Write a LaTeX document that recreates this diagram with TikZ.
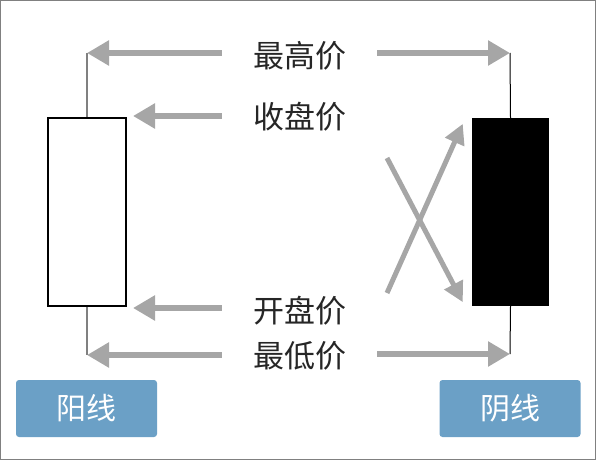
\documentclass[tikz,border=0pt]{standalone}
\usepackage{fontspec}
\newfontfamily\cjk{Noto Sans CJK SC}
\usetikzlibrary{arrows.meta,positioning}

\definecolor{arrowgray}{RGB}{166,166,166}
\definecolor{textgray}{RGB}{38,38,38}
\definecolor{tagblue}{RGB}{107,160,198}

\tikzset{
  pointer/.style={-{Triangle[length=22pt,width=24pt]}, line width=6pt, arrowgray},
  thinpointer/.style={-{Triangle[length=20pt,width=20pt]}, line width=5pt, arrowgray},
  pricelabel/.style={font=\cjk\fontsize{31}{31}\selectfont, text=textgray,
    minimum width=155pt, inner sep=0pt},
  tagbox/.style={fill=tagblue, rounded corners=3pt, minimum width=141pt,
    minimum height=57pt, text=white, font=\cjk\fontsize{30}{30}\selectfont, inner sep=0pt}
}

\begin{document}
\begin{tikzpicture}[x=1pt,y=-1pt]
    \useasboundingbox (0,0) rectangle (596,460);
    % Frame
    \draw[gray, line width=1pt] (0.5,0.5) rectangle (595.5,459.5);

    % Rising candle
    \node[draw, line width=1.6pt, fill=white, minimum width=78pt, minimum height=188pt,
      inner sep=0pt] (upBody) at (87,212) {};
    \coordinate (upHigh) at (87,53);
    \coordinate (upLow) at (87,355);
    \draw[gray, line width=1.2pt] (upHigh) -- (upBody.north);
    \draw[gray, line width=1.2pt] (upBody.south) -- (upLow);
    \coordinate (upClose) at (133,116);
    \coordinate (upOpen) at (133,308);

    % Falling candle
    \node[fill=black, minimum width=77pt, minimum height=188pt, inner sep=0pt]
      (downBody) at (510.5,212) {};
    \coordinate (downHigh) at (510,53);
    \coordinate (downLow) at (510,354);
    \draw[black, line width=1pt] (downHigh) -- (downBody.north);
    \draw[black, line width=1pt] (downBody.south) -- (downLow);

    % Price labels
    \node[pricelabel] (lblHigh) at (299.5,56) {最高价};
    \node[pricelabel] (lblClose) at (299.5,117) {收盘价};
    \node[pricelabel] (lblOpen) at (299.5,311) {开盘价};
    \node[pricelabel] (lblLow) at (299.5,356) {最低价};

    % Arrows to the rising candle
    \draw[pointer] (lblHigh.west |- upHigh) -- (upHigh);
    \draw[pointer] (lblClose.west |- upClose) -- (upClose);
    \draw[pointer] (lblOpen.west |- upOpen) -- (upOpen);
    \draw[pointer] (lblLow.west |- upLow) -- (upLow);

    % Arrows to the falling candle
    \draw[pointer] (lblHigh.east |- downHigh) -- (downHigh);
    \draw[pointer] (lblLow.east |- downLow) -- (downLow);

    % Crossed arrows: close on top, open at bottom
    \coordinate (crossTop) at (387,158);
    \coordinate (crossBottom) at (387,293);
    \draw[thinpointer] (crossTop) -- ([xshift=-9pt,yshift=4pt]downBody.south west);
    \draw[thinpointer] (crossBottom) -- ([xshift=-9pt,yshift=-6pt]downBody.north west);

    % Tags
    \node[tagbox] (tagUp) at (86.5,408.5) {阳线};
    \node[tagbox] (tagDown) at (510,408.5) {阴线};
\end{tikzpicture}
\end{document}
